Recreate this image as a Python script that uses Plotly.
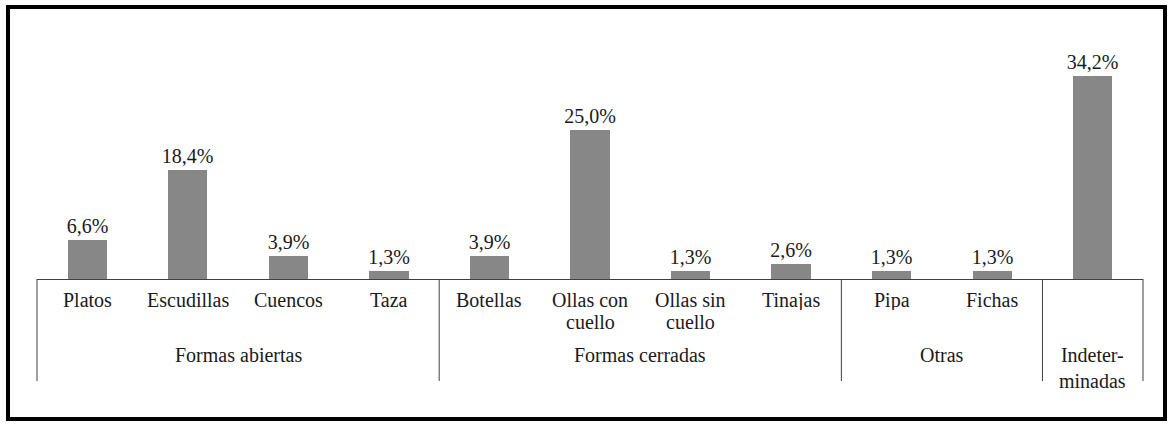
import plotly.graph_objects as go

categories = ["Platos", "Escudillas", "Cuencos", "Taza", "Botellas",
              "Ollas con<br>cuello", "Ollas sin<br>cuello", "Tinajas",
              "Pipa", "Fichas", ""]
values = [6.6, 18.4, 3.9, 1.3, 3.9, 25.0, 1.3, 2.6, 1.3, 1.3, 34.2]
value_labels = ["6,6%", "18,4%", "3,9%", "1,3%", "3,9%", "25,0%", "1,3%",
                "2,6%", "1,3%", "1,3%", "34,2%"]
groups = ["Formas abiertas", "Formas cerradas", "Otras", "Indeter-<br>minadas"]
group_spans = [(0, 3), (4, 7), (8, 9), (10, 10)]

FONT = "Liberation Serif"
W, H = 1173, 428
L, R, T, B = 37, 30, 40, 149
pw, ph = W - L - R, H - T - B
n = len(values)

def px_x(p):
    return (p - L) / pw

def px_y(p):
    return (H - B - p) / ph

fig = go.Figure(go.Bar(
    x=list(range(n)), y=values, width=0.39,
    marker=dict(color="#878787", line=dict(width=0)),
    text=value_labels, textposition="outside", cliponaxis=False,
    constraintext="none",
    textfont=dict(family=FONT, size=20, color="#1a1a1a"),
))

annotations = []
for i, c in enumerate(categories):
    lines = [s for s in c.split("<br>") if s]
    for k, line in enumerate(lines):
        annotations.append(dict(x=i, y=px_y(300 + 22 * k), xref="x", yref="paper",
                                text=line, showarrow=False, yanchor="middle",
                                height=20,
                                font=dict(family=FONT, size=20, color="#1a1a1a")))
for g, (a, b) in zip(groups, group_spans):
    annotations.append(dict(x=(a + b) / 2, y=px_y(342), xref="x",
                            yref="paper", text=g, showarrow=False,
                            yanchor="top",
                            font=dict(family=FONT, size=20, color="#1a1a1a")))

shapes = []
bounds = [-0.5] + [b + 0.5 for _, b in group_spans]
for bd in bounds:
    xp = (bd + 0.5) / n
    shapes.append(dict(type="line", xref="paper", yref="paper",
                       x0=xp, x1=xp, y0=0, y1=px_y(381),
                       line=dict(color="#404040", width=1)))
shapes.append(dict(type="rect", xref="paper", yref="paper",
                   x0=px_x(8), x1=px_x(1165), y0=px_y(7), y1=px_y(419),
                   line=dict(color="black", width=4)))

fig.update_layout(
    width=W, height=H, margin=dict(l=L, r=R, t=T, b=B),
    paper_bgcolor="white", plot_bgcolor="white",
    font=dict(family=FONT, size=20, color="#1a1a1a"),
    showlegend=False, bargap=0,
    xaxis=dict(range=[-0.5, n - 0.5], showticklabels=False, ticks="",
               showgrid=False, zeroline=False, showline=True,
               linecolor="#404040", linewidth=1, fixedrange=True),
    yaxis=dict(range=[0, ph / 5.95], visible=False, showgrid=False,
               zeroline=False, fixedrange=True),
    annotations=annotations, shapes=shapes,
)

fig.write_html("out.html", config={"displayModeBar": False},
               post_script="document.body.style.margin='0';document.body.style.overflow='hidden';")
